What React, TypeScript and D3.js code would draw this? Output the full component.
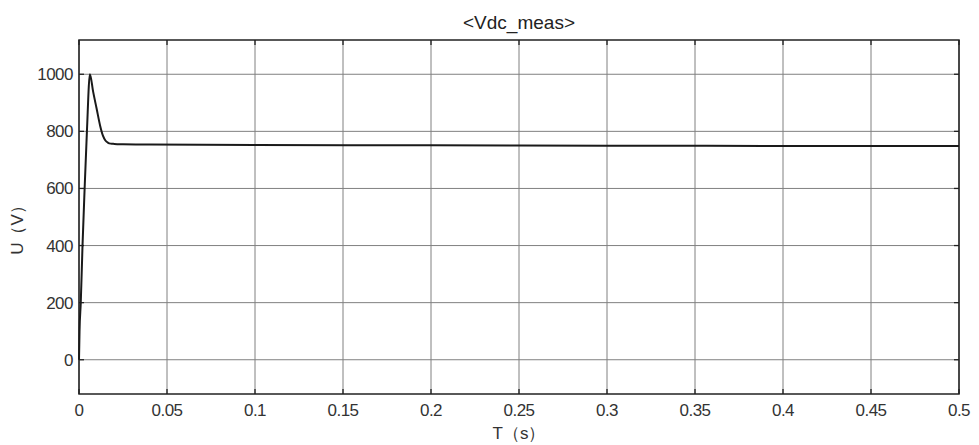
import { useEffect, useRef } from "react";
import * as d3 from "d3";

// time (s) and Vdc (V)
const timeS = [0, 0.0003, 0.001, 0.002, 0.0032, 0.0045, 0.0062, 0.008, 0.010, 0.012, 0.0136, 0.015, 0.0165, 0.018, 0.020, 0.025, 0.04, 0.1, 0.2, 0.3, 0.4, 0.5];
const vdc = [0, 100, 200, 400, 600, 800, 1000, 940, 880, 820, 785, 768, 760, 757, 756, 755, 754, 752, 751, 750, 749, 749];

const xTicks = [0, 0.05, 0.1, 0.15, 0.2, 0.25, 0.3, 0.35, 0.4, 0.45, 0.5];
const yTicks = [0, 200, 400, 600, 800, 1000];
const yDomain: [number, number] = [-120, 1120];
const title = "<Vdc_meas>";
const xLabel = "T（s）";
const yLabel = "U（V）";

export default function App() {
  const svgRef = useRef<SVGSVGElement>(null);

  useEffect(() => {
    const svgEl = svgRef.current;
    if (!svgEl) return;
    const width = 979;
    const height = 445;
    const margin = { top: 40, right: 20, bottom: 51, left: 79 };
    const innerW = width - margin.left - margin.right;
    const innerH = height - margin.top - margin.bottom;
    const font = "'Liberation Sans', Arial, sans-serif";
    const fs = 17;

    const svg = d3.select(svgEl);
    svg.selectAll("*").remove();

    const g = svg
      .append("g")
      .attr("transform", `translate(${margin.left},${margin.top})`);

    const x = d3.scaleLinear().domain([0, 0.5]).range([0, innerW]);
    const y = d3.scaleLinear().domain(yDomain).range([innerH, 0]);

    // grid
    g.append("g")
      .selectAll("line")
      .data(xTicks)
      .join("line")
      .attr("x1", (d) => x(d))
      .attr("x2", (d) => x(d))
      .attr("y1", 0)
      .attr("y2", innerH)
      .attr("stroke", "#808080")
      .attr("stroke-width", 1);
    g.append("g")
      .selectAll("line")
      .data(yTicks)
      .join("line")
      .attr("x1", 0)
      .attr("x2", innerW)
      .attr("y1", (d) => y(d))
      .attr("y2", (d) => y(d))
      .attr("stroke", "#808080")
      .attr("stroke-width", 1);

    // inward ticks on all four sides
    const tickLen = 5;
    const ticks = g.append("g").attr("stroke", "#222").attr("stroke-width", 1.3);
    xTicks.forEach((t) => {
      ticks.append("line").attr("x1", x(t)).attr("x2", x(t)).attr("y1", innerH).attr("y2", innerH - tickLen);
      ticks.append("line").attr("x1", x(t)).attr("x2", x(t)).attr("y1", 0).attr("y2", tickLen);
    });
    yTicks.forEach((t) => {
      ticks.append("line").attr("x1", 0).attr("x2", tickLen).attr("y1", y(t)).attr("y2", y(t));
      ticks.append("line").attr("x1", innerW).attr("x2", innerW - tickLen).attr("y1", y(t)).attr("y2", y(t));
    });

    // frame
    g.append("rect")
      .attr("x", 0)
      .attr("y", 0)
      .attr("width", innerW)
      .attr("height", innerH)
      .attr("fill", "none")
      .attr("stroke", "#222")
      .attr("stroke-width", 1.5);

    // trace
    const pts = timeS.map((t, i) => ({ t, v: vdc[i] }));
    const line = d3
      .line<{ t: number; v: number }>()
      .x((d) => x(d.t))
      .y((d) => y(d.v))
      .curve(d3.curveMonotoneX);
    g.append("path")
      .datum(pts)
      .attr("fill", "none")
      .attr("stroke", "#1a1a1a")
      .attr("stroke-width", 2)
      .attr("stroke-linejoin", "round")
      .attr("d", line);

    // tick labels
    g.append("g")
      .selectAll("text")
      .data(xTicks)
      .join("text")
      .attr("x", (d) => x(d))
      .attr("y", innerH + 22)
      .attr("text-anchor", "middle")
      .attr("font-family", font)
      .attr("font-size", fs)
      .attr("letter-spacing", -0.5)
      .attr("fill", "#333")
      .text((d) => String(d));
    g.append("g")
      .selectAll("text")
      .data(yTicks)
      .join("text")
      .attr("x", -6)
      .attr("y", (d) => y(d) + 6)
      .attr("text-anchor", "end")
      .attr("font-family", font)
      .attr("font-size", fs)
      .attr("letter-spacing", -0.5)
      .attr("fill", "#333")
      .text((d) => String(d));

    // title and axis labels
    svg
      .append("text")
      .attr("x", margin.left + innerW / 2)
      .attr("y", 29)
      .attr("text-anchor", "middle")
      .attr("font-family", font)
      .attr("font-size", 19)
      .attr("fill", "#222")
      .text(title);
    svg
      .append("text")
      .attr("x", margin.left + innerW / 2)
      .attr("y", 439)
      .attr("text-anchor", "middle")
      .attr("font-family", font)
      .attr("font-size", fs)
      .attr("fill", "#333")
      .text(xLabel);
    svg
      .append("text")
      .attr("transform", `translate(23,226) rotate(-90)`)
      .attr("text-anchor", "middle")
      .attr("font-family", font)
      .attr("font-size", fs)
      .attr("fill", "#333")
      .text(yLabel);
  }, []);

  return (
    <svg
      ref={svgRef}
      width={979}
      height={445}
      style={{ display: "block", position: "absolute", left: 0, top: 0, background: "#fff" }}
    />
  );
}
